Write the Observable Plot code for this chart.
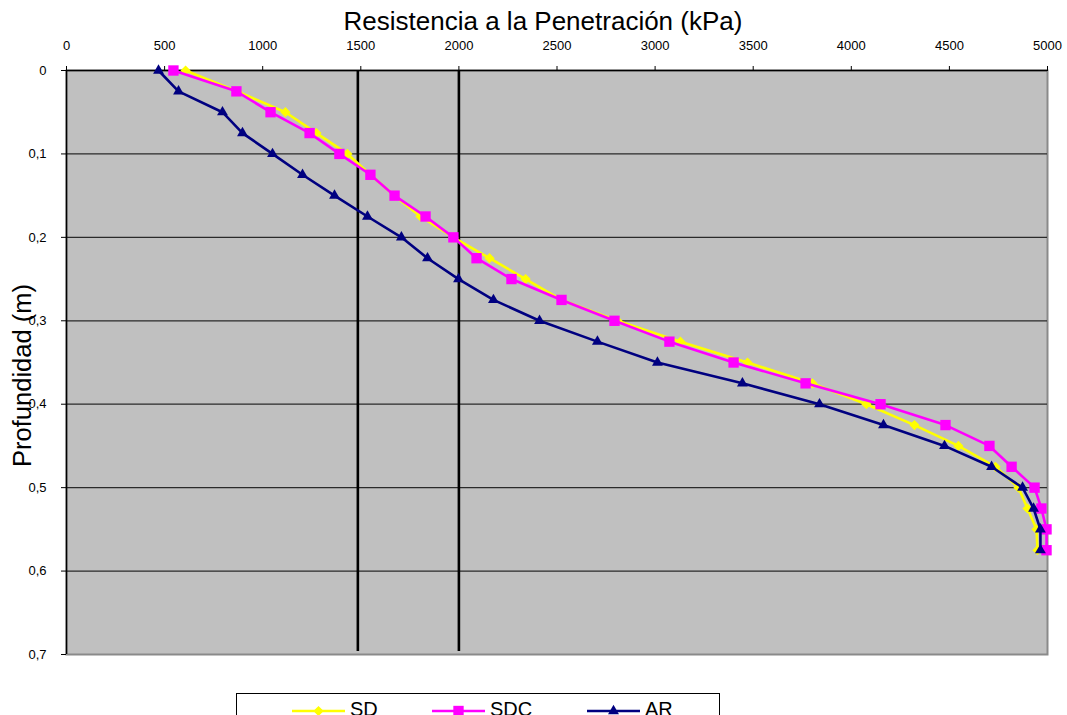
<!DOCTYPE html>
<html>
<head>
<meta charset="utf-8">
<script src="https://cdn.jsdelivr.net/npm/d3@7"></script>
<script src="https://cdn.jsdelivr.net/npm/@observablehq/plot@0.6"></script>
<style>
  body { margin: 0; background: #fff; font-family: "Liberation Sans", Arial, sans-serif; }
  #chart { position: relative; width: 1067px; height: 715px; overflow: hidden; }
  #chart svg { display: block; }
</style>
</head>
<body>
<div id="chart"></div>
<script>
// Penetration resistance profiles (kPa) against depth (m)
const depths = [0, 0.025, 0.05, 0.075, 0.1, 0.125, 0.15, 0.175, 0.2, 0.225, 0.25, 0.275,
                0.3, 0.325, 0.35, 0.375, 0.4, 0.425, 0.45, 0.475, 0.5, 0.525, 0.55, 0.575];
const sd  = [607, 870, 1116, 1274, 1432, 1549, 1672, 1804, 1972, 2156, 2340, 2523,
             2808, 3129, 3471, 3802, 4077, 4322, 4546, 4735, 4852, 4898, 4944, 4949];
const sdc = [545, 866, 1040, 1239, 1391, 1549, 1672, 1830, 1972, 2090, 2268, 2523,
             2793, 3073, 3400, 3767, 4149, 4480, 4704, 4817, 4934, 4969, 4995, 4995];
const ar  = [469, 571, 795, 897, 1050, 1203, 1366, 1534, 1707, 1840, 1998, 2176,
             2411, 2706, 3012, 3445, 3838, 4164, 4475, 4715, 4873, 4929, 4964, 4964];

const seriesNames = ["SD", "SDC", "AR"];
const seriesColors = ["#ffff00", "#ff00ff", "#000080"];
const seriesSymbols = ["diamond2", "square2", "triangle2"];
const seriesRadius = [4.6, 6.6, 5.2];

const xTicks = [0, 500, 1000, 1500, 2000, 2500, 3000, 3500, 4000, 4500, 5000];
const yTicks = [0, 0.1, 0.2, 0.3, 0.4, 0.5, 0.6, 0.7];
const gridDepths = [0.1, 0.2, 0.3, 0.4, 0.5, 0.6];
const limitLines = [1485, 2000];

const titleText = "Resistencia a la Penetración (kPa)";
const yLabelText = "Profundidad (m)";

const values = [sd, sdc, ar];
const rows = values.flatMap((vals, s) =>
  vals.map((v, i) => ({series: seriesNames[s], kpa: v, depth: depths[i]})));

const font = "'Liberation Sans', Arial, sans-serif";

const seriesMarks = seriesNames.flatMap((name, s) => {
  const data = rows.filter(d => d.series === name);
  return [
    Plot.line(data, {x: "kpa", y: "depth", stroke: seriesColors[s], strokeWidth: 2.6, curve: "linear"}),
    Plot.dot(data, {x: "kpa", y: "depth", symbol: () => seriesSymbols[s], fill: seriesColors[s], stroke: "none", r: seriesRadius[s]})
  ];
});

const chart = Plot.plot({
  width: 1067,
  height: 690,
  marginLeft: 66,
  marginRight: 20,
  marginTop: 70,
  marginBottom: 36,
  style: {fontFamily: font, fontSize: "13px", color: "#000", background: "#fff", overflow: "visible"},
  x: {domain: [0, 5000], axis: null},
  y: {domain: [0, 0.7], reverse: true, axis: null},
  symbol: {type: "identity"},
  marks: [
    Plot.frame({fill: "#c0c0c0", stroke: "#8a8a8a", strokeWidth: 2}),
    Plot.ruleY(gridDepths, {stroke: "#2a2a2a", strokeWidth: 1.2}),
    Plot.ruleX(limitLines, {y1: 0, y2: 0.6965, stroke: "#000", strokeWidth: 2.6}),
    Plot.ruleY([0], {stroke: "#000", strokeWidth: 1.5}),
    Plot.ruleX([0], {stroke: "#000", strokeWidth: 1.5}),
    Plot.axisX({anchor: "top", ticks: xTicks, tickFormat: d => String(d), tickSize: 5,
                tickPadding: 16, fontSize: 13, label: null, stroke: "#000"}),
    Plot.axisY({anchor: "left", ticks: yTicks, tickFormat: d => String(+d.toFixed(1)).replace(".", ","),
                tickSize: 5, tickPadding: 15, fontSize: 13, label: null, stroke: "#000"}),
    ...seriesMarks,
    Plot.text([titleText], {frameAnchor: "top", dx: -14, dy: -49, lineAnchor: "middle",
                            fontSize: 26, fill: "#000", textAnchor: "middle"}),
    Plot.text([yLabelText], {frameAnchor: "left", dx: -44, dy: 13, rotate: -90, lineAnchor: "middle",
                             fontSize: 25.5, fill: "#000", textAnchor: "middle"})
  ]
});

const root = document.getElementById("chart");
root.appendChild(chart);

// Legend below the chart
const legend = d3.create("svg")
  .attr("width", 1067)
  .attr("height", 25)
  .style("font-family", font);
legend.append("rect")
  .attr("x", 236.5).attr("y", 3.5).attr("width", 483).attr("height", 40)
  .attr("fill", "#fff").attr("stroke", "#000").attr("stroke-width", 1);
const legendX = [292, 432, 587];
seriesNames.forEach((name, s) => {
  const x0 = legendX[s];
  const g = legend.append("g");
  g.append("line").attr("x1", x0).attr("x2", x0 + 53).attr("y1", 21).attr("y2", 21)
    .attr("stroke", seriesColors[s]).attr("stroke-width", 2.6);
  const sym = {diamond2: d3.symbolDiamond2, square2: d3.symbolSquare2, triangle2: d3.symbolTriangle2}[seriesSymbols[s]];
  g.append("path")
    .attr("d", d3.symbol(sym, Math.PI * seriesRadius[s] ** 2)())
    .attr("transform", `translate(${x0 + 26.5},21)`)
    .attr("fill", seriesColors[s]);
  g.append("text").attr("x", x0 + 58).attr("y", 26).attr("font-size", 20).attr("fill", "#000").text(name);
});
root.appendChild(legend.node());
</script>
</body>
</html>
